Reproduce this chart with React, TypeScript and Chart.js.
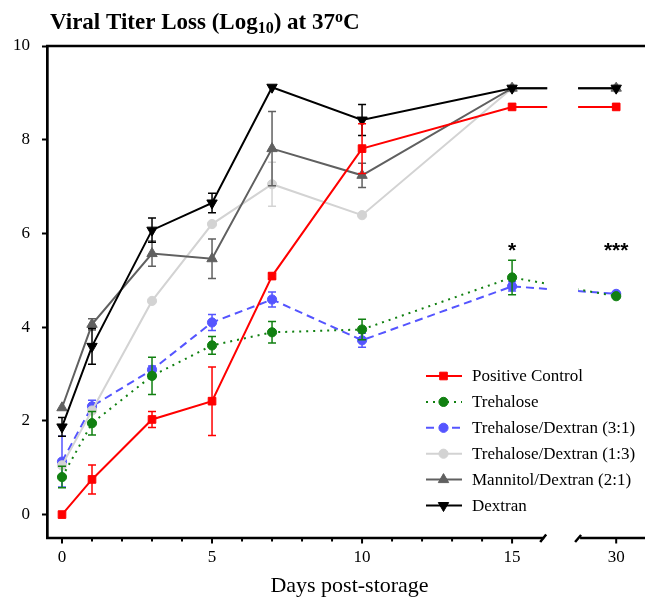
import React, { useEffect, useRef } from 'react';
import { Chart, registerables } from 'chart.js';

Chart.register(...registerables);

// ---------------- data ----------------
const days = [0, 1, 3, 5, 7, 10, 15, 30];

const seriesNames = [
  'Positive Control',
  'Trehalose',
  'Trehalose/Dextran (3:1)',
  'Trehalose/Dextran (1:3)',
  'Mannitol/Dextran (2:1)',
  'Dextran',
];

const positiveControl = [0, 0.75, 2.03, 2.42, 5.09, 7.81, 8.7, 8.7];
const positiveControlErr = [0, 0.31, 0.17, 0.73, 0.06, 0.53, 0, 0];

const trehalose = [0.8, 1.95, 2.96, 3.61, 3.89, 3.95, 5.06, 4.66];
const trehaloseErr = [0.23, 0.25, 0.4, 0.19, 0.23, 0.22, 0.37, 0];

const trehDex31 = [1.13, 2.31, 3.09, 4.1, 4.59, 3.72, 4.87, 4.71];
const trehDex31Err = [0.54, 0.13, 0.08, 0.17, 0.16, 0.15, 0.1, 0];

const trehDex13 = [1.05, 2.22, 4.56, 6.2, 7.05, 6.39, 9.1, 9.1];
const trehDex13Err = [0, 0, 0, 0, 0.47, 0, 0, 0];

const mannitolDex = [2.28, 4.06, 5.57, 5.46, 7.81, 7.24, 9.1, 9.1];
const mannitolDexErr = [0, 0.12, 0.27, 0.42, 0.79, 0.26, 0, 0];

const dextran = [1.87, 3.59, 6.07, 6.65, 9.12, 8.42, 9.1, 9.1];
const dextranErr = [0.2, 0.38, 0.26, 0.21, 0, 0.33, 0, 0];

const seriesValues = [positiveControl, trehalose, trehDex31, trehDex13, mannitolDex, dextran];
const seriesErrors = [positiveControlErr, trehaloseErr, trehDex31Err, trehDex13Err, mannitolDexErr, dextranErr];

const xTickDays = [0, 1, 2, 3, 4, 5, 6, 7, 8, 9, 10, 11, 12, 13, 14, 15, 30];
const xLabelDays = [0, 5, 10, 15, 30];
const yTicks = [0, 2, 4, 6, 8, 10];

const sigDays = [15, 30];
const sigLabels = ['*', '***'];
const sigLevel = 5.5;

// ---------------- axis break ----------------
const BREAK_START = 16.17;
const BREAK_END = 17.2;
const POS_30 = 18.47;
const toAxis = (d: number) => (d > BREAK_START ? POS_30 + (d - 30) : d);

// ---------------- styles ----------------
type Style = { color: string; dash: number[]; point: string; radius: number; rotation: number; order: number };
const styles: Style[] = [
  { color: '#ff0000', dash: [], point: 'rect', radius: 5.4, rotation: 0, order: 1 },
  { color: '#118011', dash: [2, 5], point: 'circle', radius: 4.6, rotation: 0, order: 2 },
  { color: '#5555ff', dash: [8, 5], point: 'circle', radius: 4.6, rotation: 0, order: 6 },
  { color: '#d3d3d3', dash: [], point: 'circle', radius: 4.6, rotation: 0, order: 5 },
  { color: '#606060', dash: [], point: 'triangle', radius: 6, rotation: 0, order: 4 },
  { color: '#000000', dash: [], point: 'triangle', radius: 6, rotation: 180, order: 3 },
];

const SERIF = '"Liberation Serif", "Times New Roman", serif';
const SANS = '"Liberation Sans", Arial, sans-serif';

function drawMarker(ctx: CanvasRenderingContext2D, s: Style, x: number, y: number) {
  ctx.save();
  ctx.fillStyle = s.color;
  ctx.strokeStyle = s.color;
  ctx.lineWidth = 1;
  ctx.setLineDash([]);
  ctx.beginPath();
  const r = s.radius;
  if (s.point === 'rect') {
    const h = r * Math.SQRT1_2;
    ctx.rect(x - h, y - h, 2 * h, 2 * h);
  } else if (s.point === 'circle') {
    ctx.arc(x, y, r, 0, Math.PI * 2);
  } else {
    const rad0 = (s.rotation * Math.PI) / 180;
    for (let k = 0; k < 3; k++) {
      const a = rad0 + (k * 2 * Math.PI) / 3;
      const px = x + Math.sin(a) * r;
      const py = y - Math.cos(a) * r;
      if (k === 0) ctx.moveTo(px, py);
      else ctx.lineTo(px, py);
    }
    ctx.closePath();
  }
  ctx.fill();
  ctx.stroke();
  ctx.restore();
}

const customPlugin = {
  id: 'customDraw',
  beforeDatasetsDraw(chart: any) {
    const { ctx, scales } = chart;
    const x = scales.x;
    const a = x.getPixelForValue(BREAK_START);
    const b = x.getPixelForValue(BREAK_END);
    ctx.save();
    ctx.beginPath();
    ctx.rect(0, 0, a, chart.height);
    ctx.rect(b, 0, chart.width - b, chart.height);
    ctx.clip();
  },
  beforeDatasetDraw(chart: any, args: any) {
    const { ctx, scales } = chart;
    const i = args.index;
    const s = styles[i];
    const vals = seriesValues[i];
    const errs = seriesErrors[i];
    ctx.save();
    ctx.strokeStyle = s.color;
    ctx.lineWidth = 1.5;
    ctx.setLineDash([]);
    days.forEach((d, j) => {
      const e = errs[j];
      if (!e) return;
      const px = scales.x.getPixelForValue(toAxis(d));
      const top = scales.y.getPixelForValue(vals[j] + e);
      const bot = scales.y.getPixelForValue(vals[j] - e);
      ctx.beginPath();
      ctx.moveTo(px, top);
      ctx.lineTo(px, bot);
      ctx.moveTo(px - 4, top);
      ctx.lineTo(px + 4, top);
      ctx.moveTo(px - 4, bot);
      ctx.lineTo(px + 4, bot);
      ctx.stroke();
    });
    ctx.restore();
  },
  afterDatasetsDraw(chart: any) {
    chart.ctx.restore();
  },
  afterDraw(chart: any) {
    const { ctx, chartArea, scales } = chart;
    const x = scales.x;
    const y = scales.y;
    const a = x.getPixelForValue(BREAK_START);
    const b = x.getPixelForValue(BREAK_END);
    const bottom = chartArea.bottom;
    ctx.save();
    ctx.strokeStyle = '#000';
    ctx.fillStyle = '#000';
    ctx.setLineDash([]);

    // top frame line
    ctx.lineWidth = 2.5;
    ctx.beginPath();
    ctx.moveTo(chartArea.left - 1, chartArea.top);
    ctx.lineTo(chartArea.right, chartArea.top);
    ctx.stroke();

    // broken x axis
    ctx.beginPath();
    ctx.moveTo(chartArea.left - 1, bottom);
    ctx.lineTo(a - 3, bottom);
    ctx.moveTo(b + 2, bottom);
    ctx.lineTo(chartArea.right, bottom);
    ctx.stroke();
    ctx.beginPath();
    ctx.moveTo(a - 7, bottom + 4);
    ctx.lineTo(a - 1, bottom - 3.5);
    ctx.moveTo(b - 3, bottom + 4);
    ctx.lineTo(b + 3, bottom - 3);
    ctx.stroke();

    // x ticks
    ctx.lineWidth = 2;
    xTickDays.forEach((d) => {
      const px = x.getPixelForValue(toAxis(d));
      const major = xLabelDays.includes(d);
      ctx.beginPath();
      ctx.moveTo(px, bottom);
      ctx.lineTo(px, bottom + (major ? 5.5 : 3.5));
      ctx.stroke();
    });

    // x tick labels
    ctx.font = `17px ${SERIF}`;
    ctx.textAlign = 'center';
    ctx.textBaseline = 'alphabetic';
    xLabelDays.forEach((d) => {
      ctx.fillText(String(d), x.getPixelForValue(toAxis(d)), 562);
    });

    // x axis title
    ctx.font = `22px ${SERIF}`;
    ctx.fillText('Days post-storage', 349.5, 592);

    // significance marks
    ctx.font = `bold 21px ${SANS}`;
    sigDays.forEach((d, k) => {
      ctx.fillText(sigLabels[k], x.getPixelForValue(toAxis(d)), y.getPixelForValue(sigLevel));
    });

    // title with sub/superscripts
    ctx.textAlign = 'left';
    let tx = 50;
    const base = 29;
    const big = `bold 23px ${SERIF}`;
    const small = `bold 16px ${SERIF}`;
    const parts: [string, string, number][] = [
      ['Viral Titer Loss (Log', big, 0],
      ['10', small, 4],
      [') at 37', big, 0],
      ['o', small, -7.5],
      ['C', big, 0],
    ];
    parts.forEach(([t, f, dy]) => {
      ctx.font = f;
      ctx.fillText(t, tx, base + dy);
      tx += ctx.measureText(t).width;
    });

    // legend
    ctx.font = `17px ${SERIF}`;
    ctx.textBaseline = 'middle';
    seriesNames.forEach((name, i) => {
      const s = styles[i];
      const ry = 376 + i * 25.9;
      ctx.save();
      ctx.strokeStyle = s.color;
      ctx.lineWidth = 2;
      ctx.setLineDash(s.dash);
      ctx.beginPath();
      ctx.moveTo(426, ry);
      ctx.lineTo(462, ry);
      ctx.stroke();
      ctx.restore();
      drawMarker(ctx, s, 443.5, ry);
      ctx.fillStyle = '#000';
      ctx.fillText(name, 472, ry + 1);
    });

    ctx.restore();
  },
};

export default function App() {
  const canvasRef = useRef<HTMLCanvasElement | null>(null);

  useEffect(() => {
    document.body.style.margin = '0';
    const canvas = canvasRef.current;
    if (!canvas) return;
    const chart = new Chart(canvas, {
      type: 'line',
      data: {
        datasets: seriesNames.map((name, i) => {
          const s = styles[i];
          return {
            label: name,
            order: s.order,
            data: days.map((d, j) => ({ x: toAxis(d), y: seriesValues[i][j] })),
            borderColor: s.color,
            backgroundColor: s.color,
            borderWidth: 2,
            borderDash: s.dash,
            pointStyle: s.point as any,
            pointRadius: s.radius,
            pointRotation: s.rotation,
            pointBorderWidth: 1,
            pointBackgroundColor: s.color,
            pointBorderColor: s.color,
            tension: 0,
            fill: false,
          };
        }),
      },
      options: {
        animation: false,
        responsive: false,
        devicePixelRatio: 1,
        layout: { autoPadding: false, padding: { top: 46, right: 0, bottom: 59, left: 0 } },
        plugins: {
          legend: { display: false },
          tooltip: { enabled: false },
          title: { display: false },
        },
        scales: {
          x: {
            type: 'linear',
            display: false,
            min: -0.5,
            max: 19.43,
          },
          y: {
            type: 'linear',
            min: -0.5,
            max: 10,
            afterBuildTicks: (s: any) => {
              s.ticks = yTicks.map((v) => ({ value: v }));
            },
            afterFit: (s: any) => {
              s.width = 47;
            },
            ticks: {
              color: '#000',
              padding: 12,
              font: { family: SERIF, size: 17 },
            },
            grid: {
              drawOnChartArea: false,
              drawTicks: true,
              tickLength: 5,
              tickWidth: 2,
              tickColor: '#000',
            },
            border: { display: true, color: '#000', width: 2.7 },
          },
        },
      },
      plugins: [customPlugin],
    });
    return () => chart.destroy();
  }, []);

  return <canvas ref={canvasRef} width={645} height={597} style={{ display: 'block' }} />;
}
